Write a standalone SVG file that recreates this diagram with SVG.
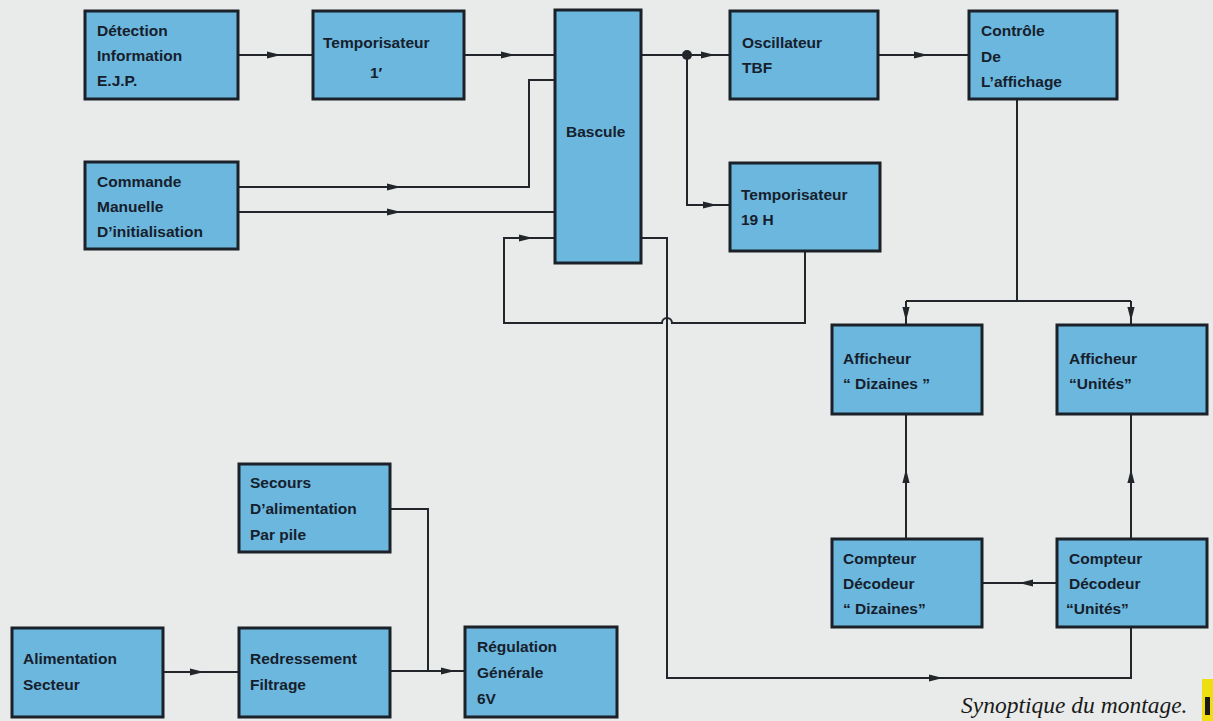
<svg xmlns="http://www.w3.org/2000/svg" xmlns:xlink="http://www.w3.org/1999/xlink" width="1213" height="721" viewBox="0 0 1213 721">
<style>
.box{fill:#6cb7de;stroke:#1b2128;stroke-width:3}
.t{font-family:"Liberation Sans",Arial,sans-serif;font-weight:bold;font-size:15.5px;fill:#16202c}
.w{fill:none;stroke:#22262a;stroke-width:2}
.ah{fill:#22262a}
.cap{font-family:"Liberation Serif","Times New Roman",serif;font-style:italic;font-size:23.5px;fill:#1a1a1a}
</style>
<defs>
<path id="ah" class="ah" d="M0,0 L-14,-3.6 L-14,3.6 Z"/>
</defs>
<rect width="1213" height="721" fill="#e8ebe9"/>

<g id="connectors">
<path class="w" d="M238,55 H313"/>
<path class="w" d="M464,55 H555"/>
<path class="w" d="M238,187 H529 V80 H555"/>
<path class="w" d="M238,212 H555"/>
<path class="w" d="M641,55 H730"/>
<path class="w" d="M687,55 V205 H730"/>
<path class="w" d="M878,55 H969"/>
<path class="w" d="M1017,99 V301 M906,301 H1131 M906,301 V325 M1131,301 V325"/>
<path class="w" d="M906,539 V414"/>
<path class="w" d="M1131,539 V414"/>
<path class="w" d="M1057,583 H982"/>
<path class="w" d="M805,251 V323 H672 A5,5 0 0 0 662,323 H504 V238 H555"/>
<path class="w" d="M641,238 H667 V678 H1131 V627"/>
<path class="w" d="M163,672 H239"/>
<path class="w" d="M390,671 H465"/>
<path class="w" d="M390,509 H428 V671"/>
<circle cx="687" cy="55" r="5" fill="#22262a"/>
<use xlink:href="#ah" transform="translate(281,55)"/>
<use xlink:href="#ah" transform="translate(515,55)"/>
<use xlink:href="#ah" transform="translate(401,187)"/>
<use xlink:href="#ah" transform="translate(401,212)"/>
<use xlink:href="#ah" transform="translate(715,55)"/>
<use xlink:href="#ah" transform="translate(717,205)"/>
<use xlink:href="#ah" transform="translate(928,55)"/>
<use xlink:href="#ah" transform="translate(906,321) rotate(90)"/>
<use xlink:href="#ah" transform="translate(1131,321) rotate(90)"/>
<use xlink:href="#ah" transform="translate(906,469) rotate(-90)"/>
<use xlink:href="#ah" transform="translate(1131,469) rotate(-90)"/>
<use xlink:href="#ah" transform="translate(1019,583) rotate(180)"/>
<use xlink:href="#ah" transform="translate(533,238)"/>
<use xlink:href="#ah" transform="translate(943,678)"/>
<use xlink:href="#ah" transform="translate(204,672)"/>
<use xlink:href="#ah" transform="translate(455,671)"/>
</g>

<g id="n-detection"><rect class="box" x="85" y="11" width="153" height="88"/>
<text class="t" x="97" y="36">Détection</text><text class="t" x="97" y="61">Information</text><text class="t" x="97" y="86">E.J.P.</text></g>

<g id="n-tempo1"><rect class="box" x="313" y="11" width="151" height="88"/>
<text class="t" x="323" y="48">Temporisateur</text><text class="t" x="370" y="78">1′</text></g>

<g id="n-commande"><rect class="box" x="85" y="162" width="153" height="87"/>
<text class="t" x="97" y="187">Commande</text><text class="t" x="97" y="212">Manuelle</text><text class="t" x="97" y="237">D’initialisation</text></g>

<g id="n-bascule"><rect class="box" x="555" y="10" width="86" height="253"/>
<text class="t" x="566" y="137">Bascule</text></g>

<g id="n-oscillateur"><rect class="box" x="730" y="11" width="148" height="88"/>
<text class="t" x="742" y="48">Oscillateur</text><text class="t" x="742" y="73">TBF</text></g>

<g id="n-controle"><rect class="box" x="969" y="11" width="148" height="88"/>
<text class="t" x="981" y="36">Contrôle</text><text class="t" x="981" y="62">De</text><text class="t" x="981" y="87">L’affichage</text></g>

<g id="n-tempo19"><rect class="box" x="730" y="163" width="150" height="88"/>
<text class="t" x="741" y="200">Temporisateur</text><text class="t" x="741" y="225">19 H</text></g>

<g id="n-aff-diz"><rect class="box" x="832" y="325" width="150" height="89"/>
<text class="t" x="843" y="364">Afficheur</text><text class="t" x="843" y="389">“ Dizaines ”</text></g>

<g id="n-aff-uni"><rect class="box" x="1057" y="325" width="150" height="89"/>
<text class="t" x="1069" y="364">Afficheur</text><text class="t" x="1069" y="389">“Unités”</text></g>

<g id="n-cpt-diz"><rect class="box" x="832" y="539" width="150" height="88"/>
<text class="t" x="843" y="564">Compteur</text><text class="t" x="843" y="589">Décodeur</text><text class="t" x="843" y="614">“ Dizaines”</text></g>

<g id="n-cpt-uni"><rect class="box" x="1057" y="539" width="150" height="88"/>
<text class="t" x="1069" y="564">Compteur</text><text class="t" x="1069" y="589">Décodeur</text><text class="t" x="1066" y="614">“Unités”</text></g>

<g id="n-secours"><rect class="box" x="239" y="464" width="151" height="88"/>
<text class="t" x="250" y="488">Secours</text><text class="t" x="250" y="514">D’alimentation</text><text class="t" x="250" y="540">Par pile</text></g>

<g id="n-alim"><rect class="box" x="12" y="628" width="151" height="89"/>
<text class="t" x="23" y="664">Alimentation</text><text class="t" x="23" y="690">Secteur</text></g>

<g id="n-redress"><rect class="box" x="239" y="628" width="151" height="89"/>
<text class="t" x="250" y="664">Redressement</text><text class="t" x="250" y="690">Filtrage</text></g>

<g id="n-regul"><rect class="box" x="465" y="627" width="152" height="90"/>
<text class="t" x="477" y="652">Régulation</text><text class="t" x="477" y="678">Générale</text><text class="t" x="477" y="704">6V</text></g>

<text class="cap" x="961" y="713">Synoptique du montage.</text>
<rect x="1202" y="679" width="11" height="42" fill="#f0df10"/>
<rect x="1205" y="697" width="5" height="18" fill="#1a1a1a"/>
</svg>
